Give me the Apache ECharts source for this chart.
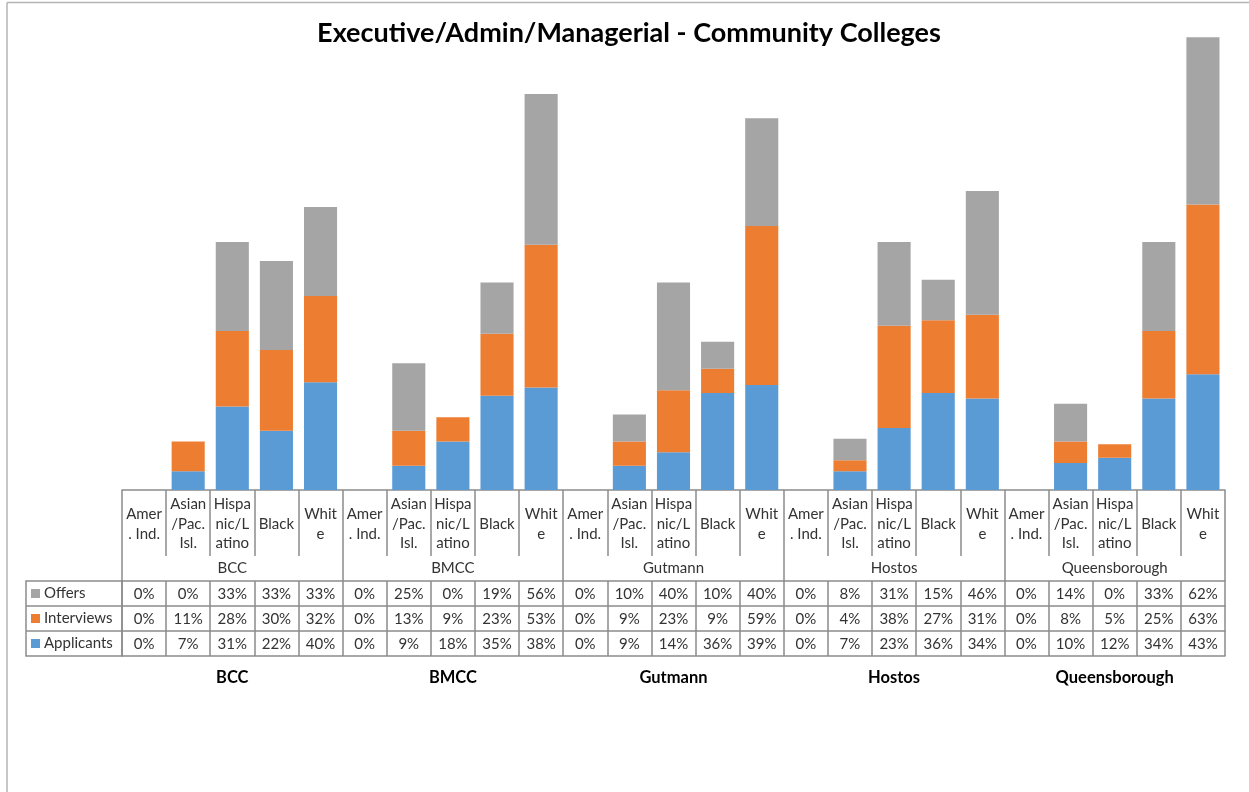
<!DOCTYPE html>
<html>
<head>
<meta charset="utf-8">
<title>Executive/Admin/Managerial - Community Colleges</title>
<script src="https://cdn.jsdelivr.net/npm/echarts@6/dist/echarts.min.js"></script>
<style>
  html, body { margin: 0; padding: 0; background: #fff; }
  #main { width: 1249px; height: 792px; }
</style>
</head>
<body>
<div id="main"></div>
<script>
// data (percent)
const colleges = ['BCC', 'BMCC', 'Gutmann', 'Hostos', 'Queensborough'];
const ethnicityTicks = ['Amer\n. Ind.', 'Asian\n/Pac.\nIsl.', 'Hispa\nnic/L\natino', 'Black', 'Whit\ne'];

const applicants = [0, 7, 31, 22, 40,  0, 9, 18, 35, 38,  0, 9, 14, 36, 39,  0, 7, 23, 36, 34,  0, 10, 12, 34, 43];
const interviews = [0, 11, 28, 30, 32,  0, 13, 9, 23, 53,  0, 9, 23, 9, 59,  0, 4, 38, 27, 31,  0, 8, 5, 25, 63];
const offers     = [0, 0, 33, 33, 33,  0, 25, 0, 19, 56,  0, 10, 40, 10, 40,  0, 8, 31, 15, 46,  0, 14, 0, 33, 62];

const seriesNames = ['Applicants', 'Interviews', 'Offers'];
const seriesColors = ['#5b9bd5', '#ed7d31', '#a5a5a5'];

// one unique category per bar: "college|ethnicity index"
const categories = [];
colleges.forEach(function (c) {
  ethnicityTicks.forEach(function (e, j) {
    categories.push(c + '|' + j);
  });
});

const FONT = 'Lato';
const LINE = '#8c8c8c';
const TXT = '#333333';

// table rows under the plot (offsets from the baseline)
const headRow = 66, groupRow = 25, dataRow = 25;

function tableAxis(offset, data, formatter, opts) {
  opts = opts || {};
  return {
    type: 'category',
    gridIndex: 0,
    position: 'bottom',
    offset: offset,
    data: data,
    axisLine: { show: opts.line !== false, lineStyle: { color: LINE, width: 1.5 } },
    axisTick: { show: opts.tick !== false, interval: 0, length: opts.tickLen || dataRow, lineStyle: { color: LINE, width: 1.5 } },
    axisLabel: {
      interval: 0,
      margin: opts.margin || dataRow / 2 + 1,
      verticalAlign: 'middle',
      fontFamily: FONT,
      fontSize: 15,
      lineHeight: 19.5,
      color: TXT,
      formatter: formatter
    },
    splitLine: { show: false }
  };
}

var dom = document.getElementById('main');
var myChart = echarts.init(dom, null, { renderer: 'canvas' });

var rowTop = headRow + groupRow; // 91
var option = {
  animation: false,
  title: {
    text: 'Executive/Admin/Managerial - Community Colleges',
    left: 629,
    top: 18,
    padding: 0,
    textAlign: 'center',
    textStyle: { fontFamily: FONT, fontSize: 27, fontWeight: 'bold', color: '#000', lineHeight: 30 }
  },
  legend: [
    { data: ['Offers'], top: 585, left: 31 },
    { data: ['Interviews'], top: 610, left: 31 },
    { data: ['Applicants'], top: 635, left: 31 }
  ].map(function (l) {
    return Object.assign(l, {
      padding: 0,
      icon: 'rect',
      itemWidth: 9,
      itemHeight: 9,
      selectedMode: false,
      textStyle: { fontFamily: FONT, fontSize: 15, color: TXT, lineHeight: 17, padding: [0, 0, 0, -1] }
    });
  }),
  grid: { left: 122, right: 24, top: 5, bottom: 302 },
  yAxis: { type: 'value', min: 0, max: 180, show: false, splitLine: { show: false } },
  xAxis: [
    tableAxis(0, categories, function (v, i) { return ethnicityTicks[i % 5]; },
      { tickLen: headRow, margin: headRow / 2 + 1 }),
    tableAxis(headRow, colleges, function (v) { return v; },
      { line: false, tickLen: groupRow, margin: groupRow / 2 }),
    tableAxis(rowTop, categories, function (v, i) { return offers[i] + '%'; }),
    tableAxis(rowTop + dataRow, categories, function (v, i) { return interviews[i] + '%'; }),
    tableAxis(rowTop + 2 * dataRow, categories, function (v, i) { return applicants[i] + '%'; }),
    tableAxis(rowTop + 3 * dataRow, colleges, function (v) { return v; },
      { tick: false, margin: 22 })
  ],
  series: [applicants, interviews, offers].map(function (vals, k) {
    return {
      name: seriesNames[k],
      type: 'bar',
      stack: 'total',
      xAxisIndex: 0,
      barCategoryGap: '25%',
      itemStyle: { color: seriesColors[k] },
      emphasis: { disabled: true },
      data: vals
    };
  }),
  graphic: [
    // chart frame (top and left edges)
    { type: 'line', shape: { x1: 7, y1: 2.5, x2: 1249, y2: 2.5 }, style: { stroke: '#b4b4b4', lineWidth: 1.5 } },
    { type: 'line', shape: { x1: 7, y1: 2.5, x2: 7, y2: 792 }, style: { stroke: '#b4b4b4', lineWidth: 1.5 } },
    // legend column of the data table
    { type: 'rect', shape: { x: 26, y: 490 + rowTop, width: 96, height: 3 * dataRow }, style: { fill: 'none', stroke: LINE, lineWidth: 1.5 } },
    { type: 'line', shape: { x1: 26, y1: 490 + rowTop + dataRow, x2: 122, y2: 490 + rowTop + dataRow }, style: { stroke: LINE, lineWidth: 1.5 } },
    { type: 'line', shape: { x1: 26, y1: 490 + rowTop + 2 * dataRow, x2: 122, y2: 490 + rowTop + 2 * dataRow }, style: { stroke: LINE, lineWidth: 1.5 } }
  ]
};

// bold college names under the table
option.xAxis[5].axisLabel.fontWeight = 'bold';
option.xAxis[5].axisLabel.fontSize = 16.5;
option.xAxis[5].axisLabel.color = '#000';

myChart.setOption(option);
window.addEventListener('resize', myChart.resize);
</script>
</body>
</html>
